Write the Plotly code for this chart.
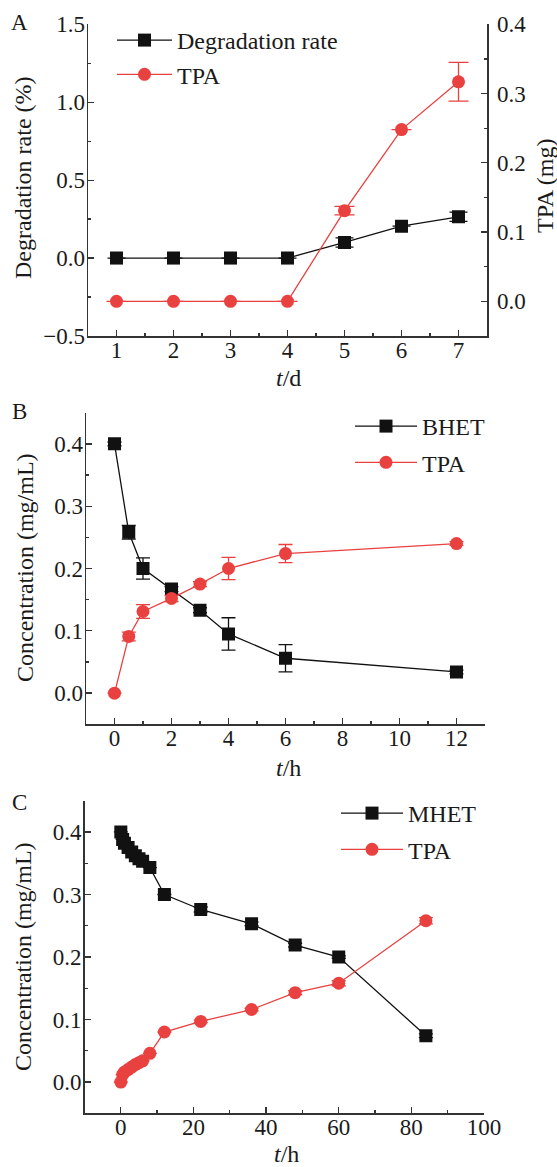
import plotly.graph_objects as go

W, H = 557, 1167
FONT = "Liberation Serif"
BLACK = "#111111"
RED = "#E8413F"
AXC = "#333333"
TXT = "#1a1a1a"

# ---------------- Panel A data ----------------
a_days = [1, 2, 3, 4, 5, 6, 7]
a_deg = [0, 0, 0, 0, 0.10, 0.205, 0.265]
a_deg_err = [0, 0, 0, 0, 0.03, 0.0, 0.03]
a_tpa = [0, 0, 0, 0, 0.131, 0.248, 0.317]
a_tpa_err = [0, 0, 0, 0, 0.006, 0.0, 0.028]

# ---------------- Panel B data ----------------
b_hours = [0, 0.5, 1, 2, 3, 4, 6, 12]
b_bhet = [0.4, 0.258, 0.2, 0.167, 0.133, 0.095, 0.056, 0.034]
b_bhet_err = [0.003, 0.011, 0.017, 0.004, 0.004, 0.026, 0.022, 0.003]
b_tpa = [0, 0.091, 0.131, 0.152, 0.175, 0.2, 0.224, 0.24]
b_tpa_err = [0, 0.007, 0.011, 0.005, 0.004, 0.018, 0.0145, 0.003]

# ---------------- Panel C data ----------------
c_hours = [0, 0.5, 1, 2, 3, 4, 5, 6, 8, 12, 22, 36, 48, 60, 84]
c_mhet = [0.4, 0.388, 0.382, 0.375, 0.368, 0.362, 0.357, 0.353, 0.343,
          0.3, 0.276, 0.253, 0.219, 0.2, 0.074]
c_mhet_err = [0, 0, 0, 0, 0, 0, 0, 0, 0, 0, 0.004, 0.003, 0.003, 0.002, 0.003]
c_tpa = [0, 0.012, 0.016, 0.02, 0.024, 0.028, 0.031, 0.034, 0.046,
         0.08, 0.097, 0.116, 0.143, 0.158, 0.258]
c_tpa_err = [0, 0, 0, 0, 0, 0, 0, 0, 0, 0, 0.002, 0.002, 0.003, 0.004, 0.005]

# text labels
panel_letters = ["A", "B", "C"]
x_titles = ["<i>t</i>/d", "<i>t</i>/h", "<i>t</i>/h"]
y_titles = ["Degradation rate (%)", "Concentration (mg/mL)", "Concentration (mg/mL)"]
y2_title = "TPA (mg)"


def px_x(p):
    return p / W


def px_y(p):
    return 1 - p / H


fig = go.Figure()


def add_series(x, y, err, name, color, symbol, size, xa, ya, legend, capw):
    fig.add_trace(go.Scatter(
        x=x, y=y, name=name, mode="lines+markers",
        line=dict(color=color, width=1.3),
        marker=dict(color=color, symbol=symbol, size=size, line=dict(width=0)),
        error_y=dict(type="data", array=err, visible=True, color=color,
                     thickness=1.3, width=capw),
        xaxis=xa, yaxis=ya, legend=legend, legendgroup=legend + name,
    ))


# Panel A
add_series(a_days, a_deg, a_deg_err, "Degradation rate", BLACK, "square", 13, "x", "y", "legend", 9)
add_series(a_days, a_tpa, a_tpa_err, "TPA", RED, "circle", 13, "x", "y2", "legend", 10)
# Panel B
add_series(b_hours, b_bhet, b_bhet_err, "BHET", BLACK, "square", 13, "x2", "y3", "legend2", 7)
add_series(b_hours, b_tpa, b_tpa_err, "TPA", RED, "circle", 13, "x2", "y3", "legend2", 7)
# Panel C
add_series(c_hours, c_mhet, c_mhet_err, "MHET", BLACK, "square", 13, "x3", "y4", "legend3", 7)
add_series(c_hours, c_tpa, c_tpa_err, "TPA", RED, "circle", 13, "x3", "y4", "legend3", 7)

tickfont = dict(family=FONT, size=23, color=TXT)
titlefont = dict(family=FONT, size=24, color=TXT)


def axis(domain, rng, dtick, minor_dtick, fmt=None, **kw):
    d = dict(
        domain=domain, range=rng, dtick=dtick, tick0=0,
        showline=True, linecolor=AXC, linewidth=1.5,
        ticks="inside", ticklen=6, tickwidth=1.3, tickcolor=AXC,
        minor=dict(ticks="inside", ticklen=3, tickwidth=1.3, tickcolor=AXC,
                   dtick=minor_dtick, tick0=0),
        showgrid=False, zeroline=False, mirror=False,
        tickfont=tickfont, automargin=False, fixedrange=True,
    )
    if fmt:
        d["tickformat"] = fmt
    d.update(kw)
    return d


XSO = -7   # x tick labels closer to the axis
YSO = -3   # left y tick labels closer to the axis

annotations = []
for t, (xx, yy) in zip(panel_letters, [(19.5, 22), (19.5, 411), (19.5, 802)]):
    annotations.append(dict(text=t, x=px_x(xx), y=px_y(yy), xref="paper", yref="paper",
                            showarrow=False, font=tickfont,
                            xanchor="center", yanchor="middle"))
for t, (xx, yy) in zip(x_titles, [(288.5, 378), (288.5, 768), (286, 1154)]):
    annotations.append(dict(text=t, x=px_x(xx), y=px_y(yy), xref="paper", yref="paper",
                            showarrow=False, font=titlefont,
                            xanchor="center", yanchor="middle"))
for t, (xx, yy) in zip(y_titles, [(23, 178), (25, 568), (23, 957)]):
    annotations.append(dict(text=t, x=px_x(xx), y=px_y(yy), xref="paper", yref="paper",
                            showarrow=False, font=titlefont, textangle=-90,
                            xanchor="center", yanchor="middle"))
annotations.append(dict(text=y2_title, x=px_x(545), y=px_y(186), xref="paper", yref="paper",
                        showarrow=False, font=titlefont, textangle=-90,
                        xanchor="center", yanchor="middle"))

legfont = dict(family=FONT, size=24, color=TXT)

fig.update_layout(
    width=W, height=H,
    margin=dict(l=0, r=0, t=0, b=0),
    paper_bgcolor="white", plot_bgcolor="white",
    font=dict(family=FONT, size=23, color=TXT),
    # Panel A
    xaxis=axis([px_x(88), px_x(487)], [0.5, 7.5], 1, 0.5, anchor="y", ticklabelstandoff=XSO),
    yaxis=axis([px_y(336), px_y(24.3)], [-0.5, 1.5], 0.5, 0.25, ".1f", anchor="x",
               ticklabelstandoff=YSO),
    yaxis2=axis([px_y(336), px_y(24.3)], [-0.05, 0.4], 0.1, 0.05, ".1f",
                anchor="x", overlaying="y", side="right", ticklabelstandoff=4),
    # Panel B
    xaxis2=axis([px_x(86), px_x(485)], [-1, 13], 2, 1, anchor="y3", ticklabelstandoff=XSO),
    yaxis3=axis([px_y(724.3), px_y(412.7)], [-0.05, 0.45], 0.1, 0.05, ".1f", anchor="x2",
                ticklabelstandoff=YSO),
    # Panel C
    xaxis3=axis([px_x(84.5), px_x(484)], [-10, 100], 20, 10, anchor="y4", ticklabelstandoff=XSO),
    yaxis4=axis([px_y(1113.3), px_y(800.7)], [-0.05, 0.45], 0.1, 0.05, ".1f", anchor="x3",
                ticklabelstandoff=YSO),
    legend=dict(x=px_x(112), y=px_y(18), xanchor="left", yanchor="top",
                bgcolor="rgba(0,0,0,0)", font=legfont, itemwidth=55, tracegroupgap=0),
    legend2=dict(x=px_x(350), y=px_y(404), xanchor="left", yanchor="top",
                 bgcolor="rgba(0,0,0,0)", font=legfont, itemwidth=62, tracegroupgap=2),
    legend3=dict(x=px_x(336), y=px_y(791), xanchor="left", yanchor="top",
                 bgcolor="rgba(0,0,0,0)", font=legfont, itemwidth=62, tracegroupgap=2),
    showlegend=True,
    annotations=annotations,
)

# the page's default 8px body margin would shift the figure; remove it
fig.write_html("out.html", config={"displayModeBar": False, "staticPlot": True},
               post_script="document.body.style.margin='0';")
